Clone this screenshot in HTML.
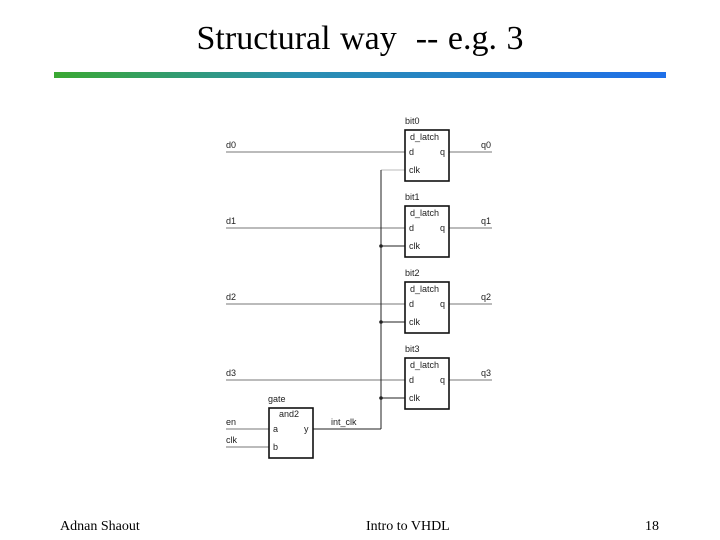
<!DOCTYPE html>
<html><head><style>
body{margin:0;width:720px;height:540px;background:#fff;overflow:hidden;position:relative;font-family:"Liberation Serif",serif}
.t{position:absolute;top:20px;left:0;width:720px;text-align:center;font-size:34px;color:#000;white-space:pre;word-spacing:1px}
.bar{position:absolute;left:54px;top:72px;width:612px;height:6px;background:linear-gradient(90deg,#3aa832,#2a8fb0 40%,#1f6fe8)}
.f{position:absolute;top:519px;font-size:14px}
svg text{font-family:"Liberation Sans",sans-serif;font-size:9px;fill:#222}
</style></head><body>
<div class="t">Structural way  -- e.g. 3</div>
<div class="bar"></div>
<div class="f" style="left:60px">Adnan Shaout</div>
<div class="f" style="left:366px">Intro to VHDL</div>
<div class="f" style="left:645px">18</div>
<svg width="720" height="540" style="position:absolute;left:0;top:0">
<g stroke="#777" stroke-width="1" fill="none">
<line x1="226" y1="152" x2="405" y2="152"/><line x1="449" y1="152" x2="492" y2="152"/>
<line x1="226" y1="228" x2="405" y2="228"/><line x1="449" y1="228" x2="492" y2="228"/>
<line x1="226" y1="304" x2="405" y2="304"/><line x1="449" y1="304" x2="492" y2="304"/>
<line x1="226" y1="380" x2="405" y2="380"/><line x1="449" y1="380" x2="492" y2="380"/>
<line x1="226" y1="429" x2="269" y2="429"/><line x1="226" y1="447" x2="269" y2="447"/>
<line x1="381" y1="170" x2="405" y2="170" stroke="#bbb"/>
</g>
<g stroke="#222" stroke-width="1" fill="none">
<line x1="381" y1="170" x2="381" y2="429"/>
<line x1="313" y1="429" x2="381" y2="429"/>
<line x1="381" y1="246" x2="405" y2="246"/>
<line x1="381" y1="322" x2="405" y2="322"/>
<line x1="381" y1="398" x2="405" y2="398"/>
</g>
<g fill="#222"><circle cx="381" cy="246" r="1.8"/><circle cx="381" cy="322" r="1.8"/><circle cx="381" cy="398" r="1.8"/></g>
<g stroke="#111" stroke-width="1.6" fill="#fff">
<rect x="405" y="130" width="44" height="51"/>
<rect x="405" y="206" width="44" height="51"/>
<rect x="405" y="282" width="44" height="51"/>
<rect x="405" y="358" width="44" height="51"/>
<rect x="269" y="408" width="44" height="50"/>
</g>
<g>
<text x="405" y="124">bit0</text><text x="410" y="140">d_latch</text><text x="409" y="155">d</text><text x="440" y="155">q</text><text x="409" y="173">clk</text>
<text x="405" y="200">bit1</text><text x="410" y="216">d_latch</text><text x="409" y="231">d</text><text x="440" y="231">q</text><text x="409" y="249">clk</text>
<text x="405" y="276">bit2</text><text x="410" y="292">d_latch</text><text x="409" y="307">d</text><text x="440" y="307">q</text><text x="409" y="325">clk</text>
<text x="405" y="352">bit3</text><text x="410" y="368">d_latch</text><text x="409" y="383">d</text><text x="440" y="383">q</text><text x="409" y="401">clk</text>
<text x="226" y="148">d0</text><text x="481" y="148">q0</text>
<text x="226" y="224">d1</text><text x="481" y="224">q1</text>
<text x="226" y="300">d2</text><text x="481" y="300">q2</text>
<text x="226" y="376">d3</text><text x="481" y="376">q3</text>
<text x="268" y="402">gate</text><text x="279" y="417">and2</text><text x="273" y="432">a</text><text x="304" y="432">y</text><text x="273" y="450">b</text>
<text x="226" y="425">en</text><text x="226" y="443">clk</text><text x="331" y="425">int_clk</text>
</g>
</svg>
</body></html>
